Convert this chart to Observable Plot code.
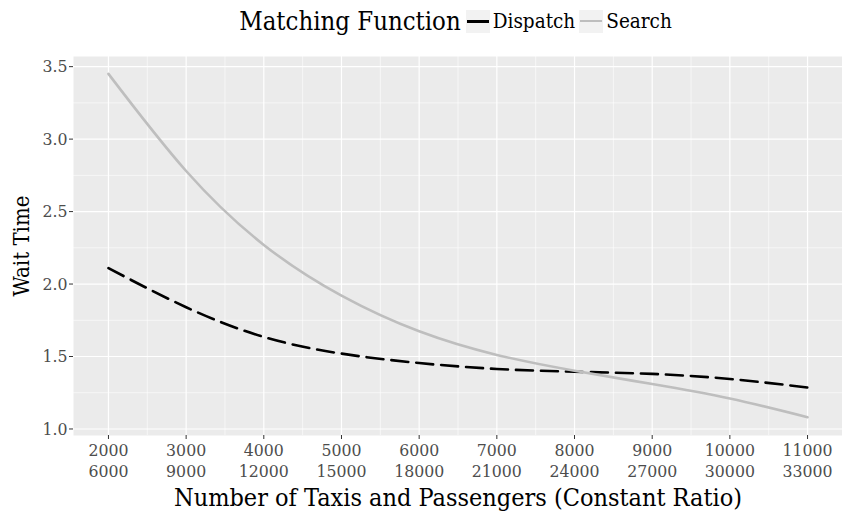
<!DOCTYPE html>
<html><head><meta charset="utf-8">
<script src="https://cdn.jsdelivr.net/npm/d3@7"></script>
<script src="https://cdn.jsdelivr.net/npm/@observablehq/plot@0.6"></script>
<style>
body{margin:0;background:#fff;font-family:"DejaVu Serif Condensed","DejaVu Serif",serif;font-stretch:condensed;}
#legend{height:46px;display:flex;align-items:center;justify-content:center;padding-left:73px;box-sizing:border-box;width:842px;padding-bottom:4px;}
#legend .title{font-size:25.5px;color:#000;margin-right:5px;}
#legend .key{width:24px;height:23px;background:#f2f2f2;position:relative;margin-right:3px;}
#legend .key span{position:absolute;left:1px;right:1px;top:10px;height:0;}
#legend .lab{font-size:20.5px;color:#000;margin-right:4px;}
#chart svg{display:block;}
</style></head><body>
<div id="legend"></div><div id="chart"></div>
<script>
const taxis = [2000, 3000, 4000, 5000, 6000, 7000, 8000, 9000, 10000, 11000];
const passengers = [6000, 9000, 12000, 15000, 18000, 21000, 24000, 27000, 30000, 33000];
const dispatch = [2.11, 1.84, 1.635, 1.52, 1.455, 1.414, 1.395, 1.38, 1.345, 1.286];
const search = [3.45, 2.78, 2.27, 1.92, 1.674, 1.511, 1.402, 1.31, 1.21, 1.081];
const seriesNames = ["Dispatch", "Search"];
const yTicks = [1.0, 1.5, 2.0, 2.5, 3.0, 3.5];
const yMinor = [1.25, 1.75, 2.25, 2.75, 3.25];
const xMinor = [2500, 3500, 4500, 5500, 6500, 7500, 8500, 9500, 10500];
const legendTitle = "Matching Function";
const xTitle = "Number of Taxis and Passengers (Constant Ratio)";
const yTitle = "Wait Time";

const styles = {
  Dispatch: {stroke: "#000000", strokeWidth: 2.6, strokeDasharray: "17,8"},
  Search: {stroke: "#bebebe", strokeWidth: 2.6, strokeDasharray: null}
};

const rows = [];
seriesNames.forEach((s, k) => {
  const vals = k === 0 ? dispatch : search;
  taxis.forEach((t, i) => rows.push({series: s, taxis: t, wait: vals[i]}));
});

// legend
const leg = document.getElementById("legend");
leg.innerHTML = `<span class="title">${legendTitle}</span>` + seriesNames.map(s =>
  `<span class="key"><span style="border-top:${s === "Dispatch" ? 3 : 2.6}px solid ${styles[s].stroke}"></span></span><span class="lab">${s}</span>`
).join("");

const labelOf = new Map(taxis.map((t, i) => [t, `${t}\n${passengers[i]}`]));

const chart = Plot.plot({
  width: 842,
  height: 466,
  marginTop: 10,
  marginBottom: 77,
  marginLeft: 73,
  marginRight: 0,
  style: {fontFamily: '"DejaVu Serif Condensed","DejaVu Serif",serif', background: "#fff"},
  x: {domain: [1550, 11450]},
  y: {domain: [0.955, 3.57]},
  marks: [
    Plot.frame({fill: "#ebebeb", stroke: null}),
    Plot.gridY(yMinor, {stroke: "#fff", strokeOpacity: 1, strokeWidth: 0.6}),
    Plot.gridX(xMinor, {stroke: "#fff", strokeOpacity: 1, strokeWidth: 0.6}),
    Plot.gridY(yTicks, {stroke: "#fff", strokeOpacity: 1, strokeWidth: 1.2}),
    Plot.gridX(taxis, {stroke: "#fff", strokeOpacity: 1, strokeWidth: 1.2}),
    ...seriesNames.map(s => Plot.line(rows.filter(r => r.series === s), {
      x: "taxis", y: "wait", curve: "natural",
      stroke: styles[s].stroke, strokeWidth: styles[s].strokeWidth,
      strokeDasharray: styles[s].strokeDasharray
    })),
    Plot.axisY(yTicks, {
      tickFormat: d3.format(".1f"), tickSize: 4, tickPadding: 2,
      stroke: "#333", fill: "#4d4d4d", fontSize: 17.5,
      label: yTitle, labelAnchor: "center", labelArrow: false, labelOffset: 60
    }),
    Plot.axisX(taxis, {
      tickFormat: d => labelOf.get(d), tickSize: 4, tickPadding: 2,
      stroke: "#333", fill: "#4d4d4d", fontSize: 17.5, lineHeight: 1.2,
      label: xTitle, labelAnchor: "center", labelArrow: false, labelOffset: 70
    })
  ]
});
document.getElementById("chart").appendChild(chart);
chart.querySelectorAll("g[aria-label='y-axis label'] text").forEach(t => {
  t.setAttribute("fill", "#000");
  t.style.fontSize = "22px";
});
chart.querySelectorAll("g[aria-label='x-axis label'] text").forEach(t => {
  t.setAttribute("fill", "#000");
  t.style.fontSize = "25px";
});
</script>
</body></html>
